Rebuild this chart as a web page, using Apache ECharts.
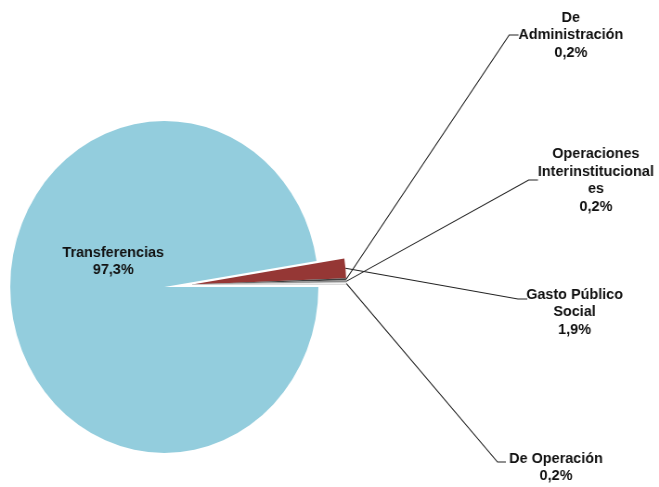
<!DOCTYPE html>
<html><head><meta charset="utf-8">
<script src="https://cdn.jsdelivr.net/npm/echarts@6/dist/echarts.min.js"></script>
<style>
html,body{margin:0;padding:0;background:#fff;overflow:hidden;width:659px;height:487px}
#c{width:710px;height:487px;transform:scaleX(0.9282);transform-origin:0 0}
</style>
</head><body><div id="c"></div>
<script>
const categories = ['Transferencias', 'Gasto Público Social', 'De Administración', 'Operaciones Interinstitucionales', 'De Operación'];
const labelLines = ['Transferencias', 'Gasto Público\nSocial', 'De\nAdministración', 'Operaciones\nInterinstitucional\nes', 'De Operación'];
const shares = [97.3, 1.9, 0.2, 0.2, 0.2];
const colors = ['#93CDDD', '#953735', '#3f3f3f', '#8a8a8a', '#f4f4f4'];

const fmt = v => v.toFixed(1).replace('.', ',') + '%';
const spots = {0: [122, 261], 1: [619, 312], 2: [615, 35], 3: [642, 180], 4: [599, 467]};
// where the leader tick meets the label (left end of the first text line)
const ticks = {1: [558, 568, 299], 4: [536, 545, 462]};

const labelStyle = {
  show: true,
  formatter: p => labelLines[p.dataIndex] + '\n' + fmt(p.value),
  fontFamily: 'Liberation Sans',
  fontWeight: 'bold',
  fontSize: 15.5,
  lineHeight: 17.5,
  color: '#111',
  align: 'center'
};

const layoutFn = p => {
  const out = {x: spots[p.dataIndex][0], y: spots[p.dataIndex][1], align: 'center', verticalAlign: 'middle'};
  const t = ticks[p.dataIndex];
  if (t && p.labelLinePoints) {
    const p0 = p.labelLinePoints[0];
    out.labelLinePoints = [[p0[0], p0[1]], [t[0], t[2]], [t[1], t[2]]];
  }
  return out;
};

const baseSeries = {
  type: 'pie',
  radius: [0, 166],
  startAngle: 0,
  clockwise: true,
  avoidLabelOverlap: false,
  emphasis: {disabled: true},
  silent: true,
  labelLayout: layoutFn
};

const chart = echarts.init(document.getElementById('c'), null, {renderer: 'canvas'});
chart.setOption({
  animation: false,
  backgroundColor: '#fff',
  series: [
    Object.assign({}, baseSeries, {
      center: [177, 287],
      label: Object.assign({}, labelStyle, {show: false}),
      labelLine: {show: false},
      data: categories.map((n, i) => ({
        name: n, value: shares[i],
        label: {show: i === 0},
        itemStyle: {color: colors[i], opacity: i === 0 ? 1 : 0}
      }))
    }),
    Object.assign({}, baseSeries, {
      center: [207, 284.5],
      label: labelStyle,
      labelLine: {show: true, length: 10, length2: 10, smooth: false, lineStyle: {color: '#222', width: 1.1}},
      data: categories.map((n, i) => ({
        name: n, value: shares[i],
        label: {show: i > 0},
        itemStyle: i === 4 ? {color: colors[i], borderColor: '#c8c8c8', borderWidth: 0.6}
                           : {color: colors[i], opacity: i === 0 ? 0 : 1},
        labelLine: {show: i > 0}
      }))
    })
  ]
});
</script></body></html>
